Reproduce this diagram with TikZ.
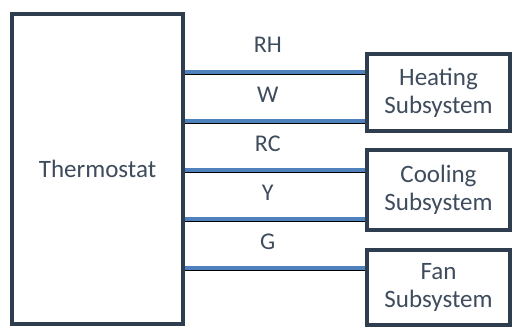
\documentclass[tikz,border=0pt]{standalone}
\usepackage{fontspec}
\setmainfont{Carlito}
\definecolor{edge}{HTML}{2E3E4F}
\definecolor{ink}{HTML}{3E4C5D}
\definecolor{wire}{HTML}{4F81BD}
\definecolor{shade}{HTML}{A0A0A0}
\begin{document}
\begin{tikzpicture}[x=1pt,y=-1pt]
	\tikzset{blk/.style={draw=edge,line width=4pt,fill=white,rectangle,align=center,text=ink,font=\fontsize{25}{28}\selectfont,inner sep=0pt}}
	\tikzset{lbl/.style={text=ink,font=\fontsize{24}{28}\selectfont,inner sep=0pt}}
	\useasboundingbox (0,0) rectangle (514,329);
	\node[blk,minimum width=171pt,minimum height=310pt](T) at (97.5,169){Thermostat};
	\node[blk,minimum width=143pt,minimum height=77pt](H) at (438.5,92.5){Heating\\Subsystem};
	\node[blk,minimum width=143pt,minimum height=80pt](C) at (438.5,190){Cooling\\Subsystem};
	\node[blk,minimum width=143pt,minimum height=75pt](F) at (438.5,287.5){Fan\\Subsystem};
	%% wires
	\foreach \w/\y/\b in {RH/72/H,W/121/H,RC/170/C,Y/219/C,G/268/F}{
		\coordinate(w\w) at (185,\y);
		\draw[shade,line width=3pt]([yshift=-1.5pt]w\w)--([yshift=-1.5pt]w\w -| \b.west);
		\draw[wire,line width=3.5pt](w\w)--(w\w -| \b.west)node[lbl,pos=0.46,above=19pt,anchor=base](l\w){\w};
	}
\end{tikzpicture}
\end{document}
